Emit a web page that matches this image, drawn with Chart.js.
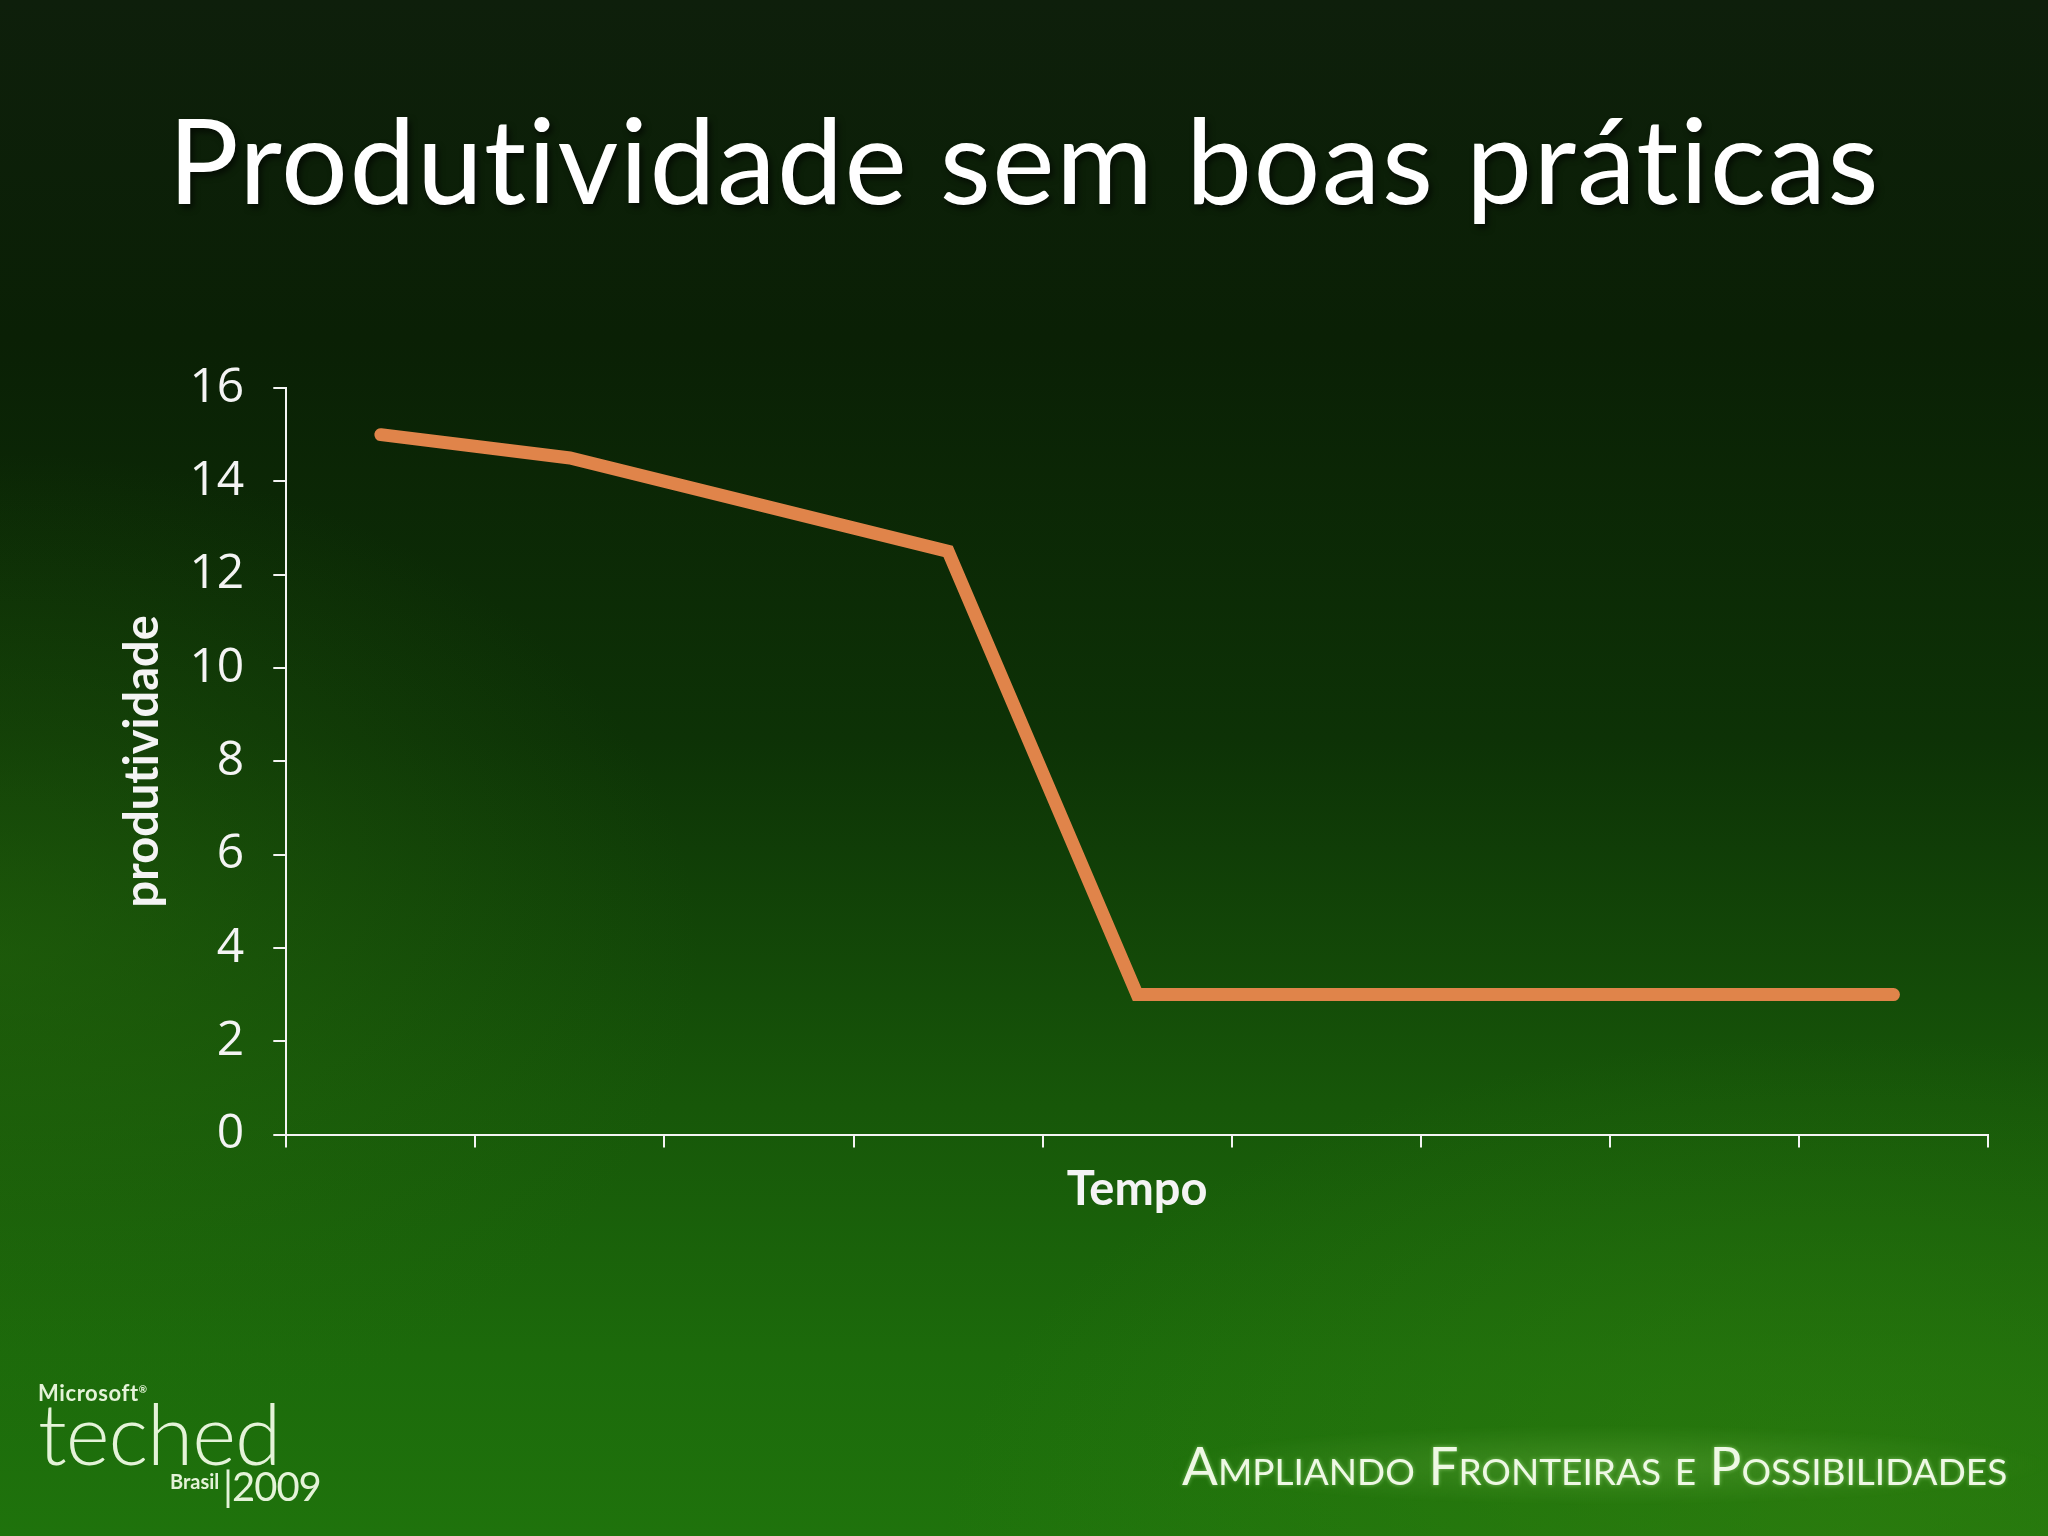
<!DOCTYPE html>
<html>
<head>
<meta charset="utf-8">
<script src="https://cdn.jsdelivr.net/npm/chart.js@4/dist/chart.umd.min.js"></script>
<style>
  html, body { margin: 0; padding: 0; }
  body {
    width: 2048px; height: 1536px; position: relative; overflow: hidden;
    background:
      radial-gradient(ellipse 900px 500px at 90% 100%, rgba(50,130,15,0.55), rgba(50,130,15,0) 100%),
      radial-gradient(ellipse 700px 500px at 0% 62%, rgba(40,110,12,0.45), rgba(40,110,12,0) 100%),
      linear-gradient(to bottom, #0e1f0b 0%, #0a2005 22%, #0d3206 48%, #175709 72%, #1c6a0b 88%, #1f730c 100%);
    font-family: "Lato", "Open Sans", sans-serif;
    font-variant-ligatures: none;
  }
  #title {
    position: absolute; left: 0; width: 2048px; top: 100px;
    text-align: center; color: #ffffff; font-size: 118px; font-weight: 400;
    letter-spacing: 1.4px;
    text-shadow: 3px 4px 6px rgba(0,0,0,0.6);
    margin: 0; line-height: 1;
  }
  #chart { position: absolute; left: 0; top: 0; }
  .logo { position: absolute; color: #e4f3d8; white-space: nowrap; }
  #ms { left: 38px; top: 1379px; font-size: 22px; font-weight: 700; letter-spacing: 0.6px; }
  #teched { left: 38px; top: 1382px; font-size: 84px; font-weight: 300; letter-spacing: -1px; }
  #brasil { left: 170px; top: 1469px; font-size: 20px; font-weight: 700; }
  #year { left: 223px; top: 1462px; font-size: 40px; font-weight: 400; letter-spacing: -1px; }
  #band {
    position: absolute; left: 1170px; top: 1425px; width: 880px; height: 80px;
    background: radial-gradient(ellipse 50% 50% at 50% 50%, rgba(110,180,70,0.35), rgba(110,180,70,0) 100%);
  }
  #tagline {
    position: absolute; left: 1182px; top: 1433px; color: #eef8e4;
    font-size: 53px; font-variant: small-caps; font-weight: 400; white-space: nowrap;
    text-shadow: 0 0 4px rgba(200,255,170,0.5);
  }
</style>
</head>
<body>
<h1 id="title">Produtividade sem boas práticas</h1>
<canvas id="chart" width="2048" height="1536"></canvas>
<div class="logo" id="ms">Microsoft<sup style="font-size:10px">®</sup></div>
<div class="logo" id="teched">teched</div>
<div class="logo" id="brasil">Brasil</div>
<div class="logo" id="year">|2009</div>
<div id="band"></div>
<div id="tagline">Ampliando Fronteiras e Possibilidades</div>
<script>
// dados
const periodos = ['1', '2', '3', '4', '5', '6', '7', '8', '9'];
const produtividade = [15, 14.5, 13.5, 12.5, 3, 3, 3, 3, 3];
const yTicks = [0, 2, 4, 6, 8, 10, 12, 14, 16];

const white = '#f4f4f4';

new Chart(document.getElementById('chart').getContext('2d'), {
  type: 'line',
  data: {
    labels: periodos,
    datasets: [{
      label: 'produtividade',
      data: produtividade,
      borderColor: '#e0844a',
      borderWidth: 13,
      borderCapStyle: 'round',
      borderJoinStyle: 'miter',
      pointRadius: 0,
      tension: 0
    }]
  },
  options: {
    responsive: false,
    animation: false,
    layout: { padding: { left: 115, top: 388, right: 60, bottom: 318 } },
    plugins: { legend: { display: false }, tooltip: { enabled: false } },
    scales: {
      x: {
        offset: true,
        grid: { offset: true, drawOnChartArea: false, color: white, lineWidth: 2, tickLength: 13 },
        border: { color: white, width: 2 },
        ticks: { display: false },
        title: {
          display: true, text: 'Tempo', color: white,
          font: { family: 'Lato', size: 47, weight: 'bold' },
          padding: { top: 14, bottom: 0 }
        }
      },
      y: {
        min: yTicks[0],
        max: yTicks[yTicks.length - 1],
        afterBuildTicks: (scale) => { scale.ticks = yTicks.map(v => ({ value: v })); },
        grid: { drawOnChartArea: false, color: white, lineWidth: 2, tickLength: 13 },
        border: { color: white, width: 2 },
        ticks: {
          color: white, padding: 29,
          font: { family: 'Open Sans', size: 48 }
        },
        title: {
          display: true, text: 'produtividade', color: white,
          font: { family: 'Lato', size: 47, weight: 'bold' },
          // fit() counts tick padding twice, so pull the axis back in here
          padding: { top: 0, bottom: -11 }
        }
      }
    }
  }
});
</script>
</body>
</html>
